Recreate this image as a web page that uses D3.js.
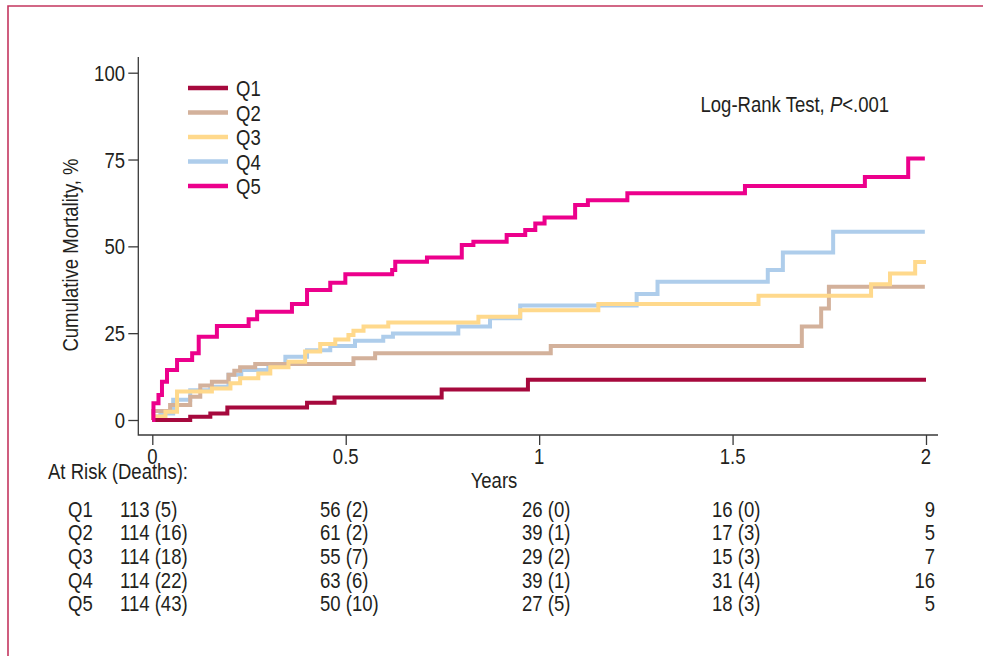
<!DOCTYPE html>
<html>
<head>
<meta charset="utf-8">
<script src="https://cdn.jsdelivr.net/npm/d3@7"></script>
<style>
  html, body { margin: 0; padding: 0; background: #fff; }
  svg { display: block; }
</style>
</head>
<body>
<svg id="chart" width="983" height="656"></svg>
<script>
// ---------------- DATA ----------------
const seriesNames = ["Q1", "Q2", "Q3", "Q4", "Q5"];

const q1Times = [0, 0.098, 0.150, 0.194, 0.400, 0.471, 0.748, 0.971, 2.0];
const q1Vals  = [0, 0.9, 1.9, 3.6, 5.0, 6.5, 8.8, 11.6, 11.6];

const q2Times = [0, 0.002, 0.046, 0.098, 0.124, 0.154, 0.197, 0.212, 0.227, 0.266, 0.520, 0.576, 1.030, 1.679, 1.729, 1.749, 1.997];
const q2Vals  = [0, 2.6, 4.3, 6.7, 9.9, 11.0, 13.0, 14.2, 15.2, 16.1, 17.8, 19.2, 21.3, 26.9, 32.1, 38.4, 38.4];

const q3Times = [0, 0.003, 0.034, 0.064, 0.154, 0.202, 0.227, 0.274, 0.305, 0.352, 0.395, 0.434, 0.473, 0.507, 0.520, 0.546, 0.610, 0.843, 0.951, 1.153, 1.567, 1.858, 1.907, 1.972, 2.0];
const q3Vals  = [0, 1.0, 2.4, 8.2, 9.1, 10.6, 12.0, 13.4, 15.2, 16.8, 19.7, 21.9, 23.2, 24.5, 25.7, 26.9, 28.1, 29.7, 31.6, 33.4, 35.8, 39.1, 42.2, 45.5, 45.5];

const q4Times = [0, 0.003, 0.021, 0.054, 0.098, 0.150, 0.197, 0.230, 0.300, 0.344, 0.400, 0.460, 0.524, 0.597, 0.622, 0.791, 0.873, 0.951, 1.252, 1.306, 1.591, 1.630, 1.760, 1.997];
const q4Vals  = [0, 1.0, 1.9, 5.8, 8.6, 9.6, 13.0, 14.4, 15.3, 18.2, 20.1, 21.3, 22.8, 24.0, 24.9, 26.9, 29.3, 33.0, 36.3, 39.8, 43.2, 48.2, 54.2, 54.2];

const q5Times = [0, 0.003, 0.016, 0.025, 0.038, 0.064, 0.103, 0.120, 0.167, 0.249, 0.271, 0.361, 0.400, 0.460, 0.499, 0.620, 0.628, 0.710, 0.800, 0.830, 0.916, 0.964, 0.990, 1.014, 1.093, 1.126, 1.228, 1.532, 1.842, 1.954, 1.997];
const q5Vals  = [0, 4.8, 7.2, 11.0, 14.4, 17.3, 19.2, 24.0, 27.1, 29.0, 31.2, 33.4, 37.4, 39.5, 42.0, 43.2, 45.6, 46.8, 50.4, 51.3, 53.3, 54.7, 56.6, 58.3, 61.9, 63.3, 65.3, 67.4, 70.0, 75.3, 75.3];

const xTicks = [0, 0.5, 1, 1.5, 2];
const xTickLabels = ["0", "0.5", "1", "1.5", "2"];
const yTicks = [0, 25, 50, 75, 100];
const yTickLabels = ["0", "25", "50", "75", "100"];

const atRisk = [
  [113, 56, 26, 16, 9],
  [114, 61, 39, 17, 5],
  [114, 55, 29, 15, 7],
  [114, 63, 39, 31, 16],
  [114, 50, 27, 18, 5]
];
const deaths = [
  [5, 2, 0, 0],
  [16, 2, 1, 3],
  [18, 7, 2, 3],
  [22, 6, 1, 4],
  [43, 10, 5, 3]
];

// ---------------- STYLE / LAYOUT ----------------
const colors = ["#a6093d", "#d3b19b", "#ffd98c", "#aecdeb", "#ec008c"];
const textColor = "#231f20";
const axisColor = "#3a3a3a";
const FS = 22.6;

const svg = d3.select("#chart");

// font detection: narrow face or scaled regular
const probe = svg.append("text").attr("font-size", FS)
  .attr("font-family", "'Liberation Sans Narrow'").text("Cumulative Mortality");
const wN = probe.node().getComputedTextLength();
probe.attr("font-family", "'Liberation Sans', Arial, sans-serif");
const wR = probe.node().getComputedTextLength();
probe.remove();
const narrow = wN < wR * 0.95;
const FONT = narrow ? "'Liberation Sans Narrow', 'Arial Narrow', sans-serif" : "'Liberation Sans', Arial, sans-serif";

function txt(parent, x, y, s, anchor, rot) {
  const tr = `translate(${x},${y})` + (rot ? ` rotate(${rot})` : "") + (narrow ? "" : " scale(0.82,1)");
  const g = parent.append("g").attr("transform", tr);
  const t = g.append("text")
    .attr("text-anchor", anchor || "start")
    .attr("font-family", FONT)
    .attr("font-size", FS)
    .attr("fill", textColor);
  if (s !== null) t.text(s);
  return t;
}

// frame (left and top edges of the surrounding box)
svg.append("path").attr("d", "M8,656 V6 H983")
  .attr("fill", "none").attr("stroke", "#c4365f").attr("stroke-width", 1.6);

// scales
const x = d3.scaleLinear().domain([0, 2]).range([152.3, 926]);
const y = d3.scaleLinear().domain([0, 100]).range([420, 72.7]);

const axisY0 = 435, axisX0 = 138.3;

// axes (ticks through d3 axes)
const gy = svg.append("g").attr("transform", `translate(${axisX0},0)`)
  .call(d3.axisLeft(y).tickValues(yTicks).tickSize(10).tickFormat(""));
const gx = svg.append("g").attr("transform", `translate(0,${axisY0})`)
  .call(d3.axisBottom(x).tickValues(xTicks).tickSize(10).tickFormat(""));
[gy, gx].forEach(g => {
  g.select(".domain").remove();
  g.selectAll(".tick line").attr("stroke", axisColor).attr("stroke-width", 1.3);
});
svg.append("path").attr("d", `M${axisX0},57 V${axisY0} H938`)
  .attr("fill", "none").attr("stroke", axisColor).attr("stroke-width", 1.3);

// tick labels
yTicks.forEach((v, i) => txt(svg, 125, y(v) + 8, yTickLabels[i], "end"));
xTicks.forEach((v, i) => txt(svg, x(v), 464, xTickLabels[i], "middle"));

// axis titles
txt(svg, 494, 488, "Years", "middle");
txt(svg, 78, 255, "Cumulative Mortality, %", "middle", -90);

// curves
const series = [
  [q1Times, q1Vals], [q2Times, q2Vals], [q3Times, q3Vals], [q4Times, q4Vals], [q5Times, q5Vals]
].map((s, i) => ({ name: seriesNames[i], color: colors[i], pts: s[0].map((t, j) => [t, s[1][j]]) }));

const line = d3.line().x(d => x(d[0])).y(d => y(d[1])).curve(d3.curveStepAfter);
const drawOrder = [3, 1, 2, 0, 4];
drawOrder.forEach(i => {
  svg.append("path").datum(series[i].pts)
    .attr("d", line)
    .attr("fill", "none")
    .attr("stroke", series[i].color)
    .attr("stroke-width", 4)
    .attr("stroke-linejoin", "miter");
});

// legend
const legY = [88, 112.5, 137, 161.5, 186];
series.forEach((s, i) => {
  svg.append("line").attr("x1", 188).attr("x2", 228)
    .attr("y1", legY[i]).attr("y2", legY[i])
    .attr("stroke", s.color).attr("stroke-width", 4.5);
  txt(svg, 236, legY[i] + 8, s.name, "start");
});

// log-rank annotation
const lr = txt(svg, 700.5, 112, null, "start");
lr.append("tspan").text("Log-Rank Test, ");
lr.append("tspan").attr("font-style", "italic").text("P");
lr.append("tspan").text("<.001");

// at-risk table
txt(svg, 48, 479, "At Risk (Deaths):", "start");
const colX = [120, 320, 522, 712, 935];
seriesNames.forEach((nm, r) => {
  const by = 516.5 + r * 23.7;
  txt(svg, 68, by, nm, "start");
  atRisk[r].forEach((n, c) => {
    const label = c < 4 ? `${n} (${deaths[r][c]})` : `${n}`;
    txt(svg, colX[c], by, label, c < 4 ? "start" : "end");
  });
});
</script>
</body>
</html>
